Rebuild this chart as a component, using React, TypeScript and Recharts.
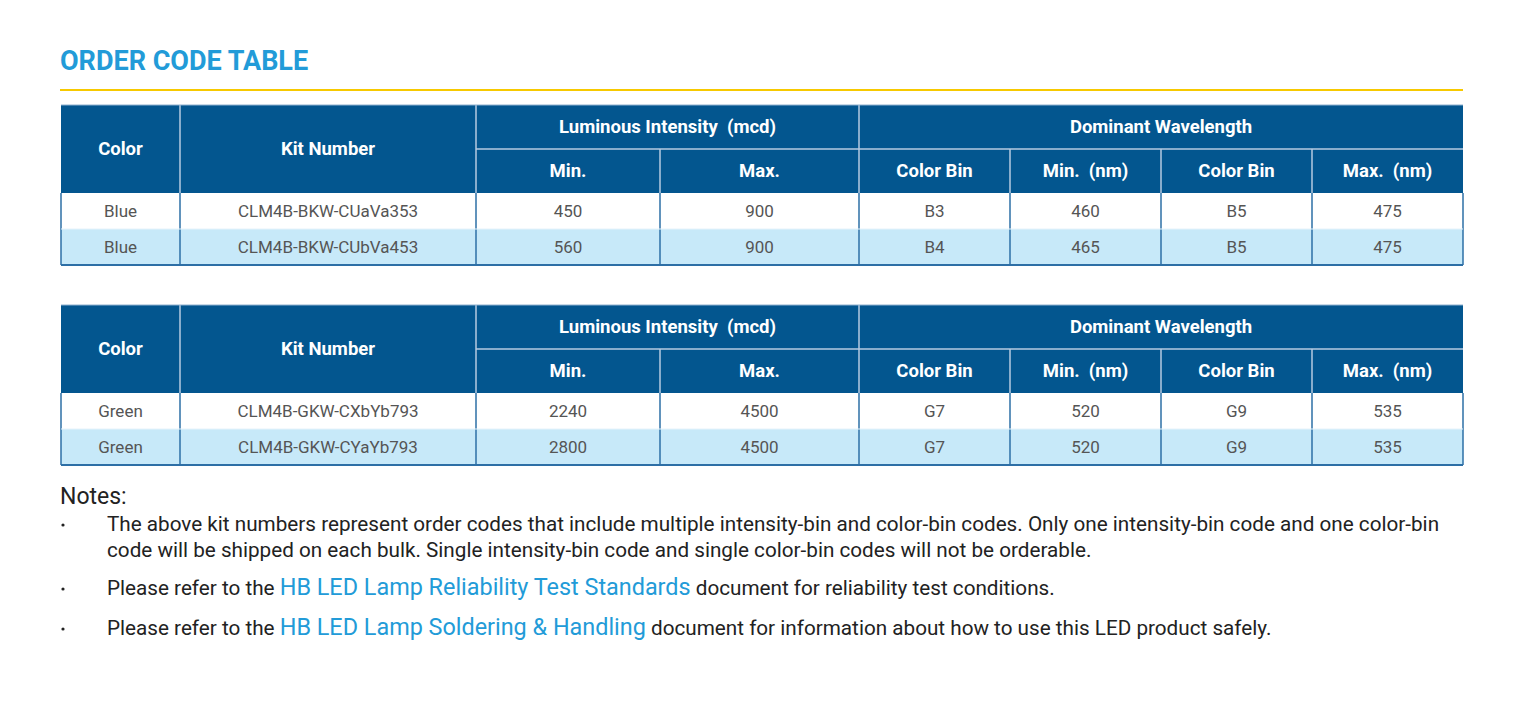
import { Surface, Layer, Rectangle } from "recharts";

// column edges (px) shared by both tables
const COL_EDGES = [61, 180, 476, 660, 859, 1010, 1161, 1312, 1463];

const groupHeaders = ["Luminous Intensity  (mcd)", "Dominant Wavelength"];
const subHeaders = ["Min.", "Max.", "Color Bin", "Min.  (nm)", "Color Bin", "Max.  (nm)"];

const blueRows = [
  ["Blue", "CLM4B-BKW-CUaVa353", "450", "900", "B3", "460", "B5", "475"],
  ["Blue", "CLM4B-BKW-CUbVa453", "560", "900", "B4", "465", "B5", "475"],
];
const greenRows = [
  ["Green", "CLM4B-GKW-CXbYb793", "2240", "4500", "G7", "520", "G9", "535"],
  ["Green", "CLM4B-GKW-CYaYb793", "2800", "4500", "G7", "520", "G9", "535"],
];

const notes = [
  {
    lines: [
      [{ t: "The above kit numbers represent order codes that include multiple intensity-bin and color-bin codes. Only one intensity-bin code and one color-bin" }],
      [{ t: "code will be shipped on each bulk. Single intensity-bin code and single color-bin codes will not be orderable." }],
    ],
  },
  {
    lines: [[{ t: "Please refer to the " }, { t: "HB LED Lamp Reliability Test Standards", link: true }, { t: " document for reliability test conditions." }]],
  },
  {
    lines: [[{ t: "Please refer to the " }, { t: "HB LED Lamp Soldering & Handling", link: true }, { t: " document for information about how to use this LED product safely." }]],
  },
];

const NAVY = "#03568f";
const LIGHT = "#c7e9f9";
const EDGE = "#2d6fa6";
const ACCENT = "#229bd8";
const FONT = "Roboto, sans-serif";

const HEAD_H = 44;
const ROW_H = 36;

function OrderTable({ top, rows }: { top: number; rows: string[][] }) {
  const e = COL_EDGES;
  const left = e[0];
  const right = e[e.length - 1];
  const dataTop = top + HEAD_H * 2;
  const bottom = dataTop + rows.length * ROW_H;
  const headText = {
    fill: "#fff",
    fontFamily: FONT,
    fontWeight: 700,
    fontSize: 18.5,
    textAnchor: "middle" as const,
    dominantBaseline: "central" as const,
    style: { whiteSpace: "pre" as const },
  };
  // edges that run through both header rows
  const fullEdges = [e[1], e[2], e[4]];
  return (
    <Layer>
      <Rectangle x={left} y={top} width={right - left} height={HEAD_H * 2} fill={NAVY} />
      {rows.map((r, i) => (
        <Rectangle key={i} x={left} y={dataTop + i * ROW_H} width={right - left} height={ROW_H} fill={i % 2 ? LIGHT : "#fff"} />
      ))}
      {/* header separators */}
      {e.slice(1, -1).map((x, i) => (
        <line key={"hv" + i} x1={x} x2={x} y1={fullEdges.includes(x) ? top : top + HEAD_H} y2={dataTop} stroke="#b7cbe0" strokeWidth={1.5} />
      ))}
      <line x1={e[2]} x2={right} y1={top + HEAD_H} y2={top + HEAD_H} stroke="#b7cbe0" strokeWidth={1.5} />
      <line x1={left} x2={right} y1={top} y2={top} stroke="#8fb0cf" strokeWidth={1} />
      {/* data separators */}
      {e.map((x, i) => (
        <line key={"dv" + i} x1={x} x2={x} y1={dataTop} y2={bottom} stroke={EDGE} strokeWidth={1.5} />
      ))}
      {rows.slice(1).map((_, i) => (
        <line key={"dh" + i} x1={left} x2={right} y1={dataTop + (i + 1) * ROW_H} y2={dataTop + (i + 1) * ROW_H} stroke="#e6f3fb" strokeWidth={1} />
      ))}
      <line x1={left} x2={right} y1={bottom} y2={bottom} stroke={EDGE} strokeWidth={2} />

      <text x={(e[0] + e[1]) / 2} y={top + HEAD_H} {...headText}>Color</text>
      <text x={(e[1] + e[2]) / 2} y={top + HEAD_H} {...headText}>Kit Number</text>
      <text x={(e[2] + e[4]) / 2} y={top + HEAD_H / 2} {...headText}>{groupHeaders[0]}</text>
      <text x={(e[4] + e[8]) / 2} y={top + HEAD_H / 2} {...headText}>{groupHeaders[1]}</text>
      {subHeaders.map((s, i) => (
        <text key={s + i} x={(e[i + 2] + e[i + 3]) / 2} y={top + HEAD_H * 1.5} {...headText}>{s}</text>
      ))}
      {rows.map((r, ri) =>
        r.map((c, ci) => (
          <text key={ri + "-" + ci} x={(e[ci] + e[ci + 1]) / 2} y={dataTop + ri * ROW_H + ROW_H / 2} fill="#555" fontFamily={FONT} fontSize={17} textAnchor="middle" dominantBaseline="central">
            {c}
          </text>
        ))
      )}
    </Layer>
  );
}

export default function App() {
  const noteY = [531, 595, 635];
  return (
    <div style={{ position: "absolute", left: 0, top: 0, width: 1539, height: 709, background: "#fff" }}>
      <Surface width={1539} height={709}>
        <text x={60} y={70} fill={ACCENT} fontFamily={FONT} fontWeight={700} fontSize={27}>ORDER CODE TABLE</text>
        <line x1={60} x2={1463} y1={90} y2={90} stroke="#f7c900" strokeWidth={2} />
        <OrderTable top={105} rows={blueRows} />
        <OrderTable top={305} rows={greenRows} />
        <text x={60} y={504} fill="#222" fontFamily={FONT} fontSize={23}>Notes:</text>
        {notes.map((n, ni) => (
          <Layer key={ni}>
            <circle cx={63} cy={noteY[ni] - 6} r={1.6} fill="#222" />
            {n.lines.map((ln, li) => (
              <text key={li} x={107} y={noteY[ni] + li * 26} fontFamily={FONT} fontSize={20.7} fill="#222" style={{ whiteSpace: "pre" }}>
                {ln.map((seg, si) => (
                  <tspan key={si} fill={(seg as any).link ? ACCENT : "#222"} fontSize={(seg as any).link ? 23.4 : 20.7}>{seg.t}</tspan>
                ))}
              </text>
            ))}
          </Layer>
        ))}
      </Surface>
    </div>
  );
}
